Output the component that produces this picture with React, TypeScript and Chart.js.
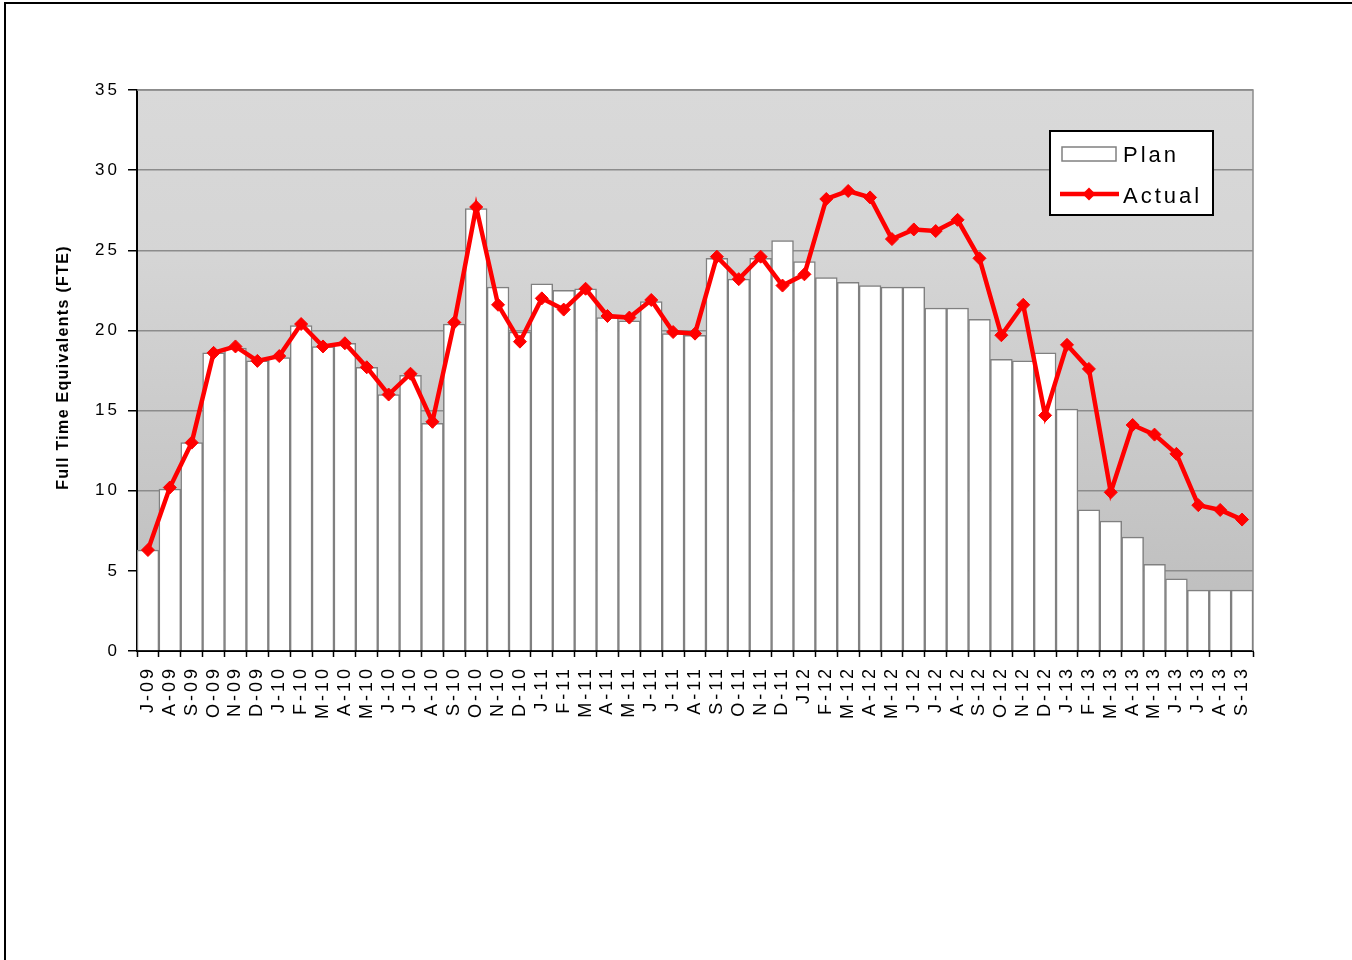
import React, { useEffect, useRef } from "react";
import { Chart, registerables } from "chart.js";

Chart.register(...registerables);

const categories = [
  "J-09", "A-09", "S-09", "O-09", "N-09", "D-09", "J-10", "F-10", "M-10", "A-10",
  "M-10", "J-10", "J-10", "A-10", "S-10", "O-10", "N-10", "D-10", "J-11", "F-11",
  "M-11", "A-11", "M-11", "J-11", "J-11", "A-11", "S-11", "O-11", "N-11", "D-11",
  "J12", "F-12", "M-12", "A-12", "M-12", "J-12", "J-12", "A-12", "S-12", "O-12",
  "N-12", "D-12", "J-13", "F-13", "M-13", "A-13", "M-13", "J-13", "J-13", "A-13", "S-13",
];

const planValues = [
  6.3, 10.1, 13.0, 18.6, 18.9, 18.1, 18.3, 20.3, 19.0, 19.2,
  17.7, 16.0, 17.2, 14.2, 20.4, 27.6, 22.7, 19.9, 22.9, 22.5,
  22.6, 20.8, 20.6, 21.8, 19.8, 19.7, 24.5, 23.2, 24.5, 25.6,
  24.3, 23.3, 23.0, 22.8, 22.7, 22.7, 21.4, 21.4, 20.7, 18.2,
  18.1, 18.6, 15.1, 8.8, 8.1, 7.1, 5.4, 4.5, 3.8, 3.8, 3.8,
];

const actualValues = [
  6.3, 10.2, 13.0, 18.6, 19.0, 18.1, 18.4, 20.4, 19.0, 19.2,
  17.7, 16.0, 17.3, 14.3, 20.5, 27.7, 21.6, 19.3, 22.0, 21.3,
  22.6, 20.9, 20.8, 21.9, 19.9, 19.8, 24.6, 23.2, 24.6, 22.8,
  23.5, 28.2, 28.7, 28.3, 25.7, 26.3, 26.2, 26.9, 24.5, 19.7,
  21.6, 14.7, 19.1, 17.6, 9.9, 14.1, 13.5, 12.3, 9.1, 8.8, 8.2,
];

const yTicks = [0, 5, 10, 15, 20, 25, 30, 35];
const yTitle = "Full Time Equivalents (FTE)";
const legendLabels = ["Plan", "Actual"];

const FONT = '"Liberation Sans", Arial, sans-serif';

const bgPlugin = {
  id: "bgPlugin",
  beforeDraw(chart: any) {
    const { ctx, chartArea } = chart;
    ctx.letterSpacing = "3px";
    if (!chartArea) return;
    ctx.save();
    const g = ctx.createLinearGradient(0, chartArea.top, 0, chartArea.bottom);
    g.addColorStop(0, "#d9d9d9");
    g.addColorStop(0.3, "#d5d5d5");
    g.addColorStop(1, "#bcbcbc");
    ctx.fillStyle = g;
    ctx.fillRect(chartArea.left, chartArea.top, chartArea.right - chartArea.left, chartArea.bottom - chartArea.top);
    ctx.restore();
  },
  beforeDatasetsDraw(chart: any) {
    const { ctx, chartArea } = chart;
    ctx.save();
    ctx.strokeStyle = "#8c8c8c";
    ctx.lineWidth = 1.5;
    ctx.beginPath();
    ctx.moveTo(chartArea.left, chartArea.top);
    ctx.lineTo(chartArea.right, chartArea.top);
    ctx.lineTo(chartArea.right, chartArea.bottom);
    ctx.stroke();
    ctx.restore();
  },
};

const legendPlugin = {
  id: "legendPlugin",
  afterDraw(chart: any) {
    const { ctx, chartArea } = chart;
    // y axis title
    ctx.save();
    ctx.translate(64, (chartArea.top + chartArea.bottom) / 2 - 3);
    ctx.rotate(-Math.PI / 2);
    ctx.font = `bold 16px ${FONT}`;
    ctx.letterSpacing = "1.3px";
    ctx.fillStyle = "#000000";
    ctx.textAlign = "center";
    ctx.textBaseline = "middle";
    ctx.fillText(yTitle, 0, 0);
    ctx.restore();

    const bx = chartArea.right - 203;
    const by = chartArea.top + 41;
    const bw = 163;
    const bh = 84;
    ctx.save();
    ctx.fillStyle = "#ffffff";
    ctx.fillRect(bx, by, bw, bh);
    ctx.strokeStyle = "#000000";
    ctx.lineWidth = 2;
    ctx.strokeRect(bx, by, bw, bh);
    // Plan swatch
    ctx.fillStyle = "#ffffff";
    ctx.strokeStyle = "#808080";
    ctx.lineWidth = 1.5;
    ctx.fillRect(bx + 12, by + 16, 54, 14);
    ctx.strokeRect(bx + 12, by + 16, 54, 14);
    // Actual swatch
    ctx.strokeStyle = "#ff0000";
    ctx.lineWidth = 4.5;
    ctx.beginPath();
    ctx.moveTo(bx + 10, by + 63);
    ctx.lineTo(bx + 69, by + 63);
    ctx.stroke();
    ctx.fillStyle = "#ff0000";
    ctx.beginPath();
    const cx = bx + 39, cy = by + 63, r = 6.5;
    ctx.moveTo(cx, cy - r);
    ctx.lineTo(cx + r, cy);
    ctx.lineTo(cx, cy + r);
    ctx.lineTo(cx - r, cy);
    ctx.closePath();
    ctx.fill();
    // Text
    ctx.fillStyle = "#000000";
    ctx.font = `22px ${FONT}`;
    ctx.letterSpacing = "3px";
    ctx.textBaseline = "alphabetic";
    ctx.textAlign = "left";
    ctx.fillText(legendLabels[0], bx + 73, by + 31);
    ctx.fillText(legendLabels[1], bx + 73, by + 72);
    ctx.restore();
  },
};

export default function App() {
  const canvasRef = useRef<HTMLCanvasElement | null>(null);

  useEffect(() => {
    document.body.style.margin = "0";
    document.body.style.overflow = "hidden";
    const canvas = canvasRef.current;
    if (!canvas) return;
    const chart = new Chart(canvas, {
      type: "bar",
      data: {
        labels: categories,
        datasets: [
          {
            type: "line",
            label: legendLabels[1],
            data: actualValues,
            borderColor: "#ff0000",
            backgroundColor: "#ff0000",
            borderWidth: 4.5,
            pointStyle: "rectRot",
            pointRadius: 6.5,
            pointBorderWidth: 1,
            pointBackgroundColor: "#ff0000",
            pointBorderColor: "#ff0000",
            tension: 0,
            order: 0,
          } as any,
          {
            type: "bar",
            label: legendLabels[0],
            data: planValues,
            backgroundColor: "#ffffff",
            borderColor: "#808080",
            borderWidth: 1.5,
            barPercentage: 1,
            categoryPercentage: 1,
            order: 1,
          } as any,
        ],
      },
      options: {
        responsive: false,
        animation: false,
        layout: { padding: { top: 90, right: 99, left: 0, bottom: 0 } },
        plugins: {
          legend: { display: false },
          tooltip: { enabled: false },
          title: { display: false },
        },
        scales: {
          x: {
            offset: true,
            grid: {
              offset: true,
              drawOnChartArea: false,
              drawTicks: true,
              tickLength: 6,
              tickColor: "#000000",
              tickWidth: 1.5,
            },
            border: { color: "#000000", width: 2 },
            ticks: {
              autoSkip: false,
              maxRotation: 90,
              minRotation: 90,
              padding: 9,
              color: "#000000",
              font: { family: FONT, size: 18 },
            },
            afterFit(scale: any) {
              scale.height = 309;
            },
          },
          y: {
            min: 0,
            max: 35,
            afterBuildTicks(scale: any) {
              scale.ticks = yTicks.map((v) => ({ value: v }));
            },
            grid: {
              color: "#8c8c8c",
              lineWidth: 1.5,
              tickColor: "#000000",
              tickLength: 9,
              tickWidth: 1.5,
            },
            border: { color: "#000000", width: 2 },
            ticks: {
              padding: 8,
              color: "#000000",
              font: { family: FONT, size: 17 },
            },
            title: { display: false },
            afterFit(scale: any) {
              scale.width = 137;
            },
          },
        },
      },
      plugins: [bgPlugin, legendPlugin],
    });
    return () => chart.destroy();
  }, []);

  return (
    <div style={{ position: "relative", width: 1352, height: 960, overflow: "hidden", background: "#ffffff" }}>
      <canvas ref={canvasRef} width={1352} height={960} style={{ display: "block", width: 1352, height: 960 }} />
      <div
        style={{
          position: "absolute",
          left: 4,
          top: 2,
          width: 1400,
          height: 1000,
          border: "2px solid #000000",
          pointerEvents: "none",
        }}
      />
    </div>
  );
}
